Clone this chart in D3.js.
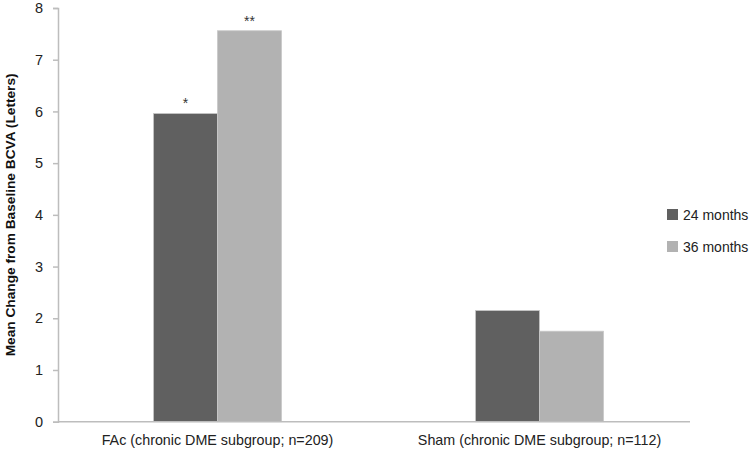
<!DOCTYPE html>
<html>
<head>
<meta charset="utf-8">
<script src="https://cdn.jsdelivr.net/npm/d3@7"></script>
<style>
  body { margin: 0; background: #fff; }
  svg { font-family: "Liberation Sans", Arial, sans-serif; }
</style>
</head>
<body>
<svg id="chart" width="750" height="450"></svg>
<script>
const groups = ['FAc (chronic DME subgroup; n=209)', 'Sham (chronic DME subgroup; n=112)']
const series = ['24 months', '36 months']
const months24 = [5.96, 2.15]
const months36 = [7.56, 1.75]
const stars24 = ['*', '']
const stars36 = ['**', '']
const yTicks = [0, 1, 2, 3, 4, 5, 6, 7, 8]

const colors = ['#606060', '#b2b2b2']
const values = [months24, months36]
const stars = [stars24, stars36]

const svg = d3.select('#chart')
const plotLeft = 58
const plotTop = 8
const plotBottom = 421.7
const axisEnd = 690

const y = d3.scaleLinear().domain([0, 8]).range([plotBottom, plotTop])
const x = d3.scaleBand().domain(groups).range([56.5, 700.5])
const barW = 64
const xs = d3.scaleBand().domain(series).range([0, barW * 2])

const yAxis = svg.append('g')
    .attr('transform', `translate(${plotLeft},0)`)
    .call(d3.axisLeft(y).tickValues(yTicks).tickSize(5).tickPadding(10).tickFormat(d3.format('d')))
yAxis.select('.domain').attr('stroke', '#bdbdbd').attr('stroke-width', 1.5)
yAxis.selectAll('.tick line').attr('stroke', '#bdbdbd').attr('stroke-width', 1.5)
yAxis.selectAll('text').attr('font-size', 14.5).attr('fill', '#222')

const bars = svg.append('g')
series.forEach((s, si) => {
    bars.selectAll(`rect.s${si}`)
        .data(groups)
        .enter()
        .append('rect')
        .attr('class', `s${si}`)
        .attr('x', g => x(g) + x.bandwidth() / 2 - barW + xs(s))
        .attr('y', (g, i) => y(values[si][i]))
        .attr('width', xs.bandwidth())
        .attr('height', (g, i) => plotBottom - y(values[si][i]))
        .attr('fill', colors[si])
        .attr('stroke', '#c8c8c8')
        .attr('stroke-width', 0.8)

    bars.selectAll(`text.s${si}`)
        .data(groups)
        .enter()
        .append('text')
        .attr('class', `s${si}`)
        .attr('x', g => x(g) + x.bandwidth() / 2 - barW + xs(s) + xs.bandwidth() / 2)
        .attr('y', (g, i) => y(values[si][i]) - 5)
        .attr('text-anchor', 'middle')
        .attr('font-size', 14)
        .attr('fill', '#333')
        .text((g, i) => stars[si][i])
})

// baseline
svg.append('line')
    .attr('x1', plotLeft).attr('x2', axisEnd)
    .attr('y1', y(0)).attr('y2', y(0))
    .attr('stroke', '#bdbdbd').attr('stroke-width', 1.5)

svg.append('g').selectAll('text')
    .data(groups)
    .enter()
    .append('text')
    .attr('x', g => x(g) + x.bandwidth() / 2)
    .attr('y', 445)
    .attr('text-anchor', 'middle')
    .attr('font-size', 14.3)
    .attr('fill', '#222')
    .text(d => d)

svg.append('text')
    .attr('transform', `translate(15,${(plotTop + plotBottom) / 2}) rotate(-90)`)
    .attr('text-anchor', 'middle')
    .attr('font-size', 13.7)
    .attr('font-weight', 'bold')
    .attr('fill', '#111')
    .text('Mean Change from Baseline BCVA (Letters)')

const legend = svg.append('g').selectAll('g')
    .data(series)
    .enter()
    .append('g')
    .attr('transform', (_, i) => `translate(667,${209 + i * 32})`)
legend.append('rect')
    .attr('width', 11).attr('height', 11)
    .attr('fill', (_, i) => colors[i])
legend.append('text')
    .attr('x', 16).attr('y', 11)
    .attr('font-size', 14)
    .attr('fill', '#222')
    .text(d => d)
</script>
</body>
</html>
